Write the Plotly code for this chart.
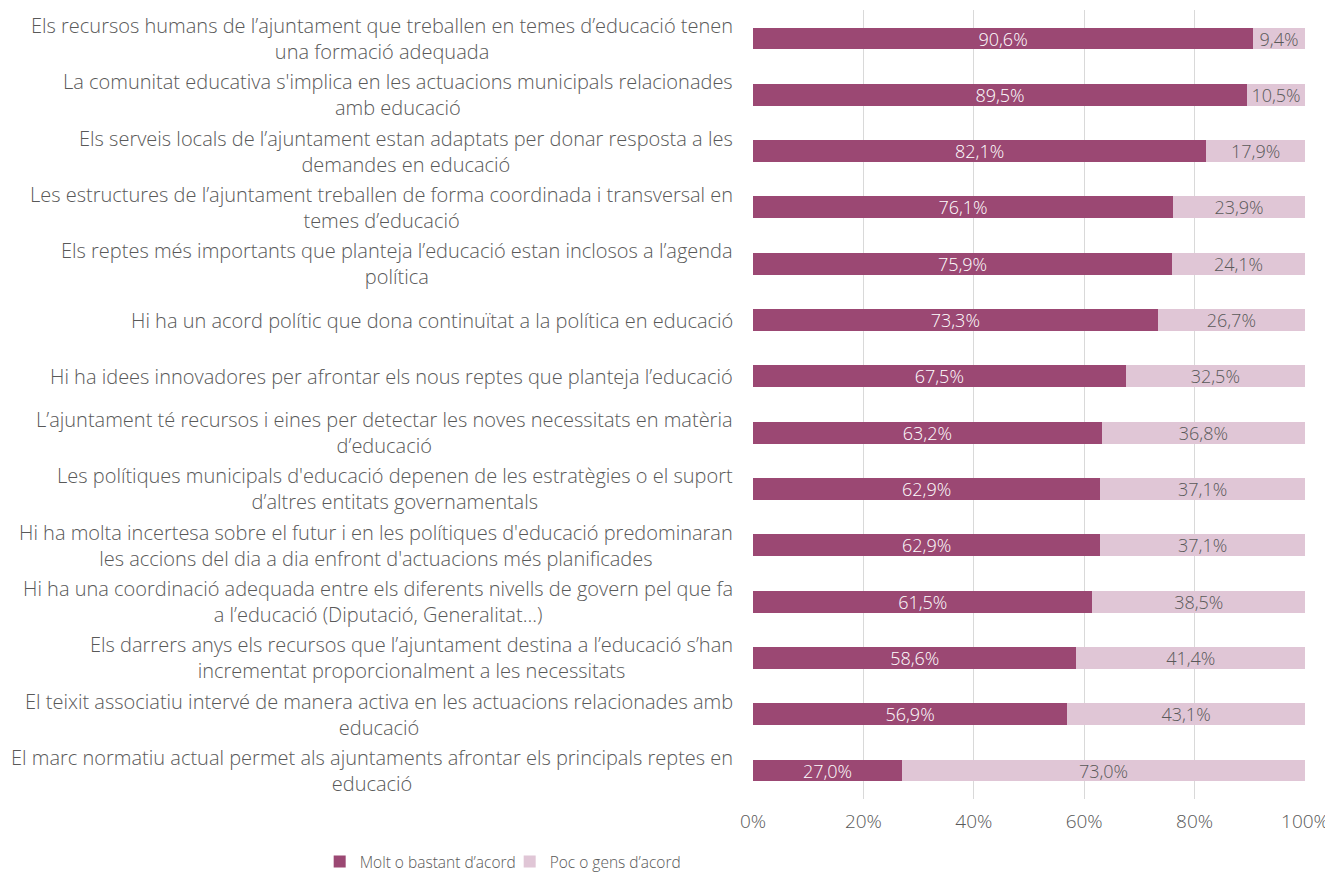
import plotly.graph_objects as go

categories = [
    "Els recursos humans de l’ajuntament que treballen en temes d’educació tenen<br>una formació adequada",
    "La comunitat educativa s'implica en les actuacions municipals relacionades<br>amb educació",
    "Els serveis locals de l’ajuntament estan adaptats per donar resposta a les<br>demandes en educació",
    "Les estructures de l’ajuntament treballen de forma coordinada i transversal en<br>temes d’educació",
    "Els reptes més importants que planteja l’educació estan inclosos a l’agenda<br>política",
    "Hi ha un acord polític que dona continuïtat a la política en educació",
    "Hi ha idees innovadores per afrontar els nous reptes que planteja l’educació",
    "L’ajuntament té recursos i eines per detectar les noves necessitats en matèria<br>d’educació",
    "Les polítiques municipals d'educació depenen de les estratègies o el suport<br>d’altres entitats governamentals",
    "Hi ha molta incertesa sobre el futur i en les polítiques d'educació predominaran<br>les accions del dia a dia enfront d'actuacions més planificades",
    "Hi ha una coordinació adequada entre els diferents nivells de govern pel que fa<br>a l’educació (Diputació, Generalitat...)",
    "Els darrers anys els recursos que l’ajuntament destina a l’educació s’han<br>incrementat proporcionalment a les necessitats",
    "El teixit associatiu intervé de manera activa en les actuacions relacionades amb<br>educació",
    "El marc normatiu actual permet als ajuntaments afrontar els principals reptes en<br>educació",
]
agree = [90.6, 89.5, 82.1, 76.1, 75.9, 73.3, 67.5, 63.2, 62.9, 62.9, 61.5, 58.6, 56.9, 27.0]
disagree = [9.4, 10.5, 17.9, 23.9, 24.1, 26.7, 32.5, 36.8, 37.1, 37.1, 38.5, 41.4, 43.1, 73.0]
series_names = ["Molt o bastant d’acord", "Poc o gens d’acord"]
x_ticks = [0, 20, 40, 60, 80, 100]

FONT = "Open Sans"
W = 300
GRAY = "#595959"
DARK = "#9B4873"
LIGHT = "#E0C6D6"
FS = 18

keys = list(range(len(categories)))

fig = go.Figure()
fig.add_trace(go.Bar(
    y=keys, x=agree, orientation="h", name=series_names[0],
    marker=dict(color=DARK, line=dict(width=0)),
    texttemplate="%{x:.1f}%", textposition="inside", constraintext="none",
    insidetextanchor="middle", textfont=dict(color="white", size=FS, family=FONT, weight=W),
))
fig.add_trace(go.Bar(
    y=keys, x=disagree, orientation="h", name=series_names[1],
    marker=dict(color=LIGHT, line=dict(width=0)),
    texttemplate="%{x:.1f}%", textposition="inside", constraintext="none",
    insidetextanchor="middle", textfont=dict(color=GRAY, size=FS, family=FONT, weight=W),
    cliponaxis=False,
))

for k, c in zip(keys, categories):
    fig.add_annotation(
        x=-0.0326, xref="paper", y=k, yref="y", text=c, showarrow=False,
        xanchor="right", yanchor="middle", align="center",
        font=dict(size=20, color=GRAY, family=FONT, weight=W),
    )

fig.update_layout(
    barmode="stack",
    bargap=0.61,
    width=1333, height=873,
    margin=dict(l=745, r=36, t=2, b=82, autoexpand=False),
    paper_bgcolor="white", plot_bgcolor="white",
    separators=",.",
    font=dict(family=FONT, color=GRAY, size=FS, weight=W),
    legend=dict(
        orientation="h", x=-0.785, xanchor="left",
        yref="container", y=(873 - 854) / 873, yanchor="middle",
        font=dict(size=15.5, color=GRAY, family=FONT, weight=W),
        traceorder="normal", itemwidth=30,
        entrywidth=145, entrywidthmode="pixels",
    ),
    xaxis=dict(
        range=[0, 100], tickvals=x_ticks, ticktext=[f"{t}%" for t in x_ticks],
        showgrid=True, gridcolor="#D9D9D9", gridwidth=1, zeroline=False,
        showline=False, ticks="", ticklabelstandoff=9,
        tickfont=dict(size=19, color=GRAY, family=FONT, weight=W),
    ),
    yaxis=dict(
        autorange="reversed", showticklabels=False, showgrid=False,
        zeroline=False, showline=False, ticks="",
    ),
)

fig.write_html("out.html")
